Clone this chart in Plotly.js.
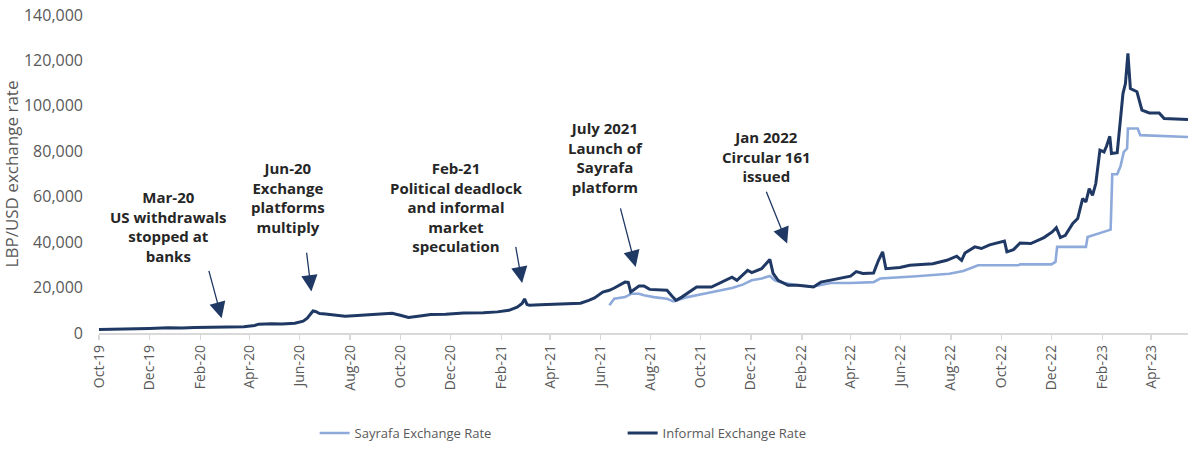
<!DOCTYPE html>
<html>
<head>
<meta charset="utf-8">
<script src="https://cdn.plot.ly/plotly-3.0.1.min.js"></script>
<style>html,body{margin:0;padding:0;background:#fff;}#chart{width:1197px;height:454px;}</style>
</head>
<body>
<div id="chart"></div>
<script>
// ---- Data ----
const informalDates = [
  '2019-10-01','2019-10-20','2019-11-01','2019-11-15','2019-12-01','2019-12-24','2020-01-10','2020-01-25',
  '2020-02-15','2020-03-10','2020-03-25','2020-04-07','2020-04-12','2020-04-28','2020-05-10','2020-05-26',
  '2020-06-05','2020-06-10','2020-06-17','2020-06-20','2020-06-25','2020-07-02','2020-07-15','2020-07-26',
  '2020-08-05','2020-08-16','2020-09-01','2020-09-21','2020-10-01','2020-10-11','2020-10-25','2020-11-07',
  '2020-11-25','2020-12-17','2021-01-10','2021-01-27','2021-02-10','2021-02-20','2021-02-26','2021-03-01',
  '2021-03-04','2021-03-07','2021-03-20','2021-04-10','2021-05-08','2021-05-18','2021-05-25','2021-06-04',
  '2021-06-12','2021-06-18','2021-07-01','2021-07-05','2021-07-08','2021-07-18','2021-07-24','2021-07-31',
  '2021-08-21','2021-08-27','2021-09-01','2021-09-08','2021-09-20','2021-09-26','2021-10-14','2021-10-27',
  '2021-11-08','2021-11-14','2021-11-27','2021-12-02','2021-12-14','2021-12-24','2021-12-28','2022-01-03',
  '2022-01-15','2022-01-27','2022-02-15','2022-02-24','2022-03-20','2022-04-01','2022-04-08','2022-04-16',
  '2022-04-29','2022-05-05','2022-05-10','2022-05-14','2022-05-31','2022-06-12','2022-07-10','2022-07-27',
  '2022-08-08','2022-08-14','2022-08-18','2022-08-30','2022-09-07','2022-09-17','2022-10-05','2022-10-08',
  '2022-10-16','2022-10-24','2022-11-06','2022-11-22','2022-12-02','2022-12-07','2022-12-12','2022-12-18',
  '2022-12-27','2023-01-02','2023-01-08','2023-01-12','2023-01-16','2023-01-20','2023-01-24','2023-01-29',
  '2023-02-03','2023-02-06','2023-02-10','2023-02-12','2023-02-19','2023-02-23','2023-02-26','2023-03-01',
  '2023-03-04','2023-03-07','2023-03-15','2023-03-21','2023-03-30','2023-04-11','2023-04-17','2023-05-16'
];
const informalValues = [
  1510,1600,1750,1900,2000,2350,2200,2450,
  2500,2700,2800,3300,3900,4100,4000,4300,
  5200,6500,9700,9500,8600,8400,8000,7400,
  7600,7800,8200,8700,7800,6800,7500,8100,
  8300,8800,8900,9300,10000,11400,13000,15000,
  12500,12200,12400,12600,13100,14400,15400,18000,
  18800,19800,22400,22300,18100,20700,20700,19200,
  18800,16300,14400,15800,18800,20200,20200,22400,
  24600,23200,27600,26600,28300,32400,26200,23200,
  21000,21000,20300,22400,24000,25000,27000,26200,
  26400,32000,35700,28300,28800,29800,30500,32000,
  33800,32000,35200,37900,37200,38800,40500,35700,
  36700,39600,39400,42000,44500,46400,42000,43000,
  48200,50400,59200,57700,63600,60600,65800,80500,
  79700,82200,86600,79000,79400,93700,105400,109800,
  123100,107600,106200,98100,96900,96900,94400,94000
];

const sayrafaDates = [
  '2021-06-12','2021-06-18','2021-07-01','2021-07-09','2021-07-18','2021-07-24','2021-08-05','2021-08-21',
  '2021-08-29','2021-09-15','2021-10-05','2021-10-27','2021-11-08','2021-11-21','2021-12-02','2021-12-14',
  '2021-12-24','2021-12-30','2022-01-07','2022-01-27','2022-02-15','2022-03-08','2022-04-01','2022-04-29',
  '2022-05-07','2022-06-20','2022-07-30','2022-08-16','2022-09-03','2022-10-22','2022-10-24','2022-12-01',
  '2022-12-06','2022-12-08','2023-01-12','2023-01-14','2023-01-24','2023-02-11','2023-02-13','2023-02-19',
  '2023-02-23','2023-02-27','2023-03-03','2023-03-04','2023-03-16','2023-03-19','2023-05-16'
];
const sayrafaValues = [
  12200,15100,15800,17300,17300,16600,15800,15100,
  13900,15800,17300,18800,19800,21300,23200,24000,
  25100,23200,22200,21000,20500,22000,22000,22400,
  24000,25000,26100,27300,29800,29800,30200,30200,
  31300,37900,37900,42300,43500,45500,69900,69900,
  73400,79700,81200,90000,90000,87100,86300
];

const seriesNames = ['Sayrafa Exchange Rate','Informal Exchange Rate'];

const tickDates = ['2019-10-01','2019-12-01','2020-02-01','2020-04-01','2020-06-01','2020-08-01','2020-10-01',
  '2020-12-01','2021-02-01','2021-04-01','2021-06-01','2021-08-01','2021-10-01','2021-12-01','2022-02-01',
  '2022-04-01','2022-06-01','2022-08-01','2022-10-01','2022-12-01','2023-02-01','2023-04-01'];
const tickLabels = ['Oct-19','Dec-19','Feb-20','Apr-20','Jun-20','Aug-20','Oct-20','Dec-20','Feb-21','Apr-21',
  'Jun-21','Aug-21','Oct-21','Dec-21','Feb-22','Apr-22','Jun-22','Aug-22','Oct-22','Dec-22','Feb-23','Apr-23'];

// annotation texts with their anchor (date, value) and arrow (tail -> tip)
const noteTexts = [
  'Mar-20<br>US withdrawals<br>stopped at<br>banks',
  'Jun-20<br>Exchange<br>platforms<br>multiply',
  'Feb-21<br>Political deadlock<br>and informal<br>market<br>speculation',
  'July 2021<br>Launch of<br>Sayrafa<br>platform',
  'Jan 2022<br>Circular 161<br>issued'
];
const noteDates = ['2019-12-24','2020-05-17','2020-12-08','2021-06-07','2021-12-20'];
const noteValues = [47000, 59800, 55600, 77400, 77850];
const arrowTailDates = ['2020-02-11','2020-06-09','2021-02-18','2021-06-25','2021-12-19'];
const arrowTailValues = [28000, 36000, 38600, 55500, 62850];
const arrowTipDates = ['2020-02-27','2020-06-15','2021-02-26','2021-07-14','2022-01-14'];
const arrowTipValues = [6500, 18300, 22000, 29100, 39400];

// ---- Chart ----
const FONT = 'Open Sans, Noto Sans, sans-serif';
const GREY = '#595959';

const traces = [
  {x: sayrafaDates, y: sayrafaValues, name: seriesNames[0], type: 'scatter', mode: 'lines',
   line: {color: '#8eaadb', width: 2.6}},
  {x: informalDates, y: informalValues, name: seriesNames[1], type: 'scatter', mode: 'lines',
   line: {color: '#1f3864', width: 3}}
];

const annotations = [];
noteTexts.forEach((t, i) => {
  annotations.push({x: noteDates[i], y: noteValues[i], xref: 'x', yref: 'y', text: '<b>' + t + '</b>',
    showarrow: false, xanchor: 'center', yanchor: 'middle', align: 'center',
    font: {family: FONT, size: 15, color: '#262626'}});
  annotations.push({x: arrowTipDates[i], y: arrowTipValues[i], xref: 'x', yref: 'y',
    ax: arrowTailDates[i], ay: arrowTailValues[i], axref: 'x', ayref: 'y', text: '',
    showarrow: true, arrowhead: 2, arrowsize: 2.5, arrowwidth: 1.3, arrowcolor: '#1f3864'});
});

const layout = {
  width: 1197, height: 454,
  margin: {l: 99, r: 9, t: 15, b: 121, autoexpand: false},
  paper_bgcolor: '#ffffff', plot_bgcolor: '#ffffff',
  font: {family: FONT, color: GREY, size: 14},
  showlegend: true,
  legend: {orientation: 'h', x: 0.198, xref: 'paper', y: 0.0463, yref: 'container',
    xanchor: 'left', yanchor: 'middle',
    entrywidth: 263, entrywidthmode: 'pixels', font: {family: FONT, size: 13, color: GREY},
    itemwidth: 30, traceorder: 'normal'},
  xaxis: {type: 'date', range: ['2019-10-01', '2023-05-16'], automargin: false,
    tickmode: 'array', tickvals: tickDates, ticktext: tickLabels, tickangle: -90,
    showgrid: false, zeroline: false, showline: true, linecolor: '#d9d9d9', linewidth: 1.5,
    ticks: 'outside', ticklen: 5, tickcolor: '#d9d9d9', tickwidth: 1.2,
    tickfont: {family: FONT, size: 14, color: GREY}},
  yaxis: {range: [0, 140000], dtick: 20000, tickformat: ',d', showgrid: false, zeroline: false,
    showline: false, ticks: '', ticklabelstandoff: 15, automargin: false,
    tickfont: {family: FONT, size: 16, color: GREY},
    title: {text: 'LBP/USD exchange rate', standoff: 2, font: {family: FONT, size: 17, color: GREY}}},
  annotations: annotations
};

Plotly.newPlot('chart', traces, layout, {displayModeBar: false, staticPlot: true});
</script>
</body>
</html>
